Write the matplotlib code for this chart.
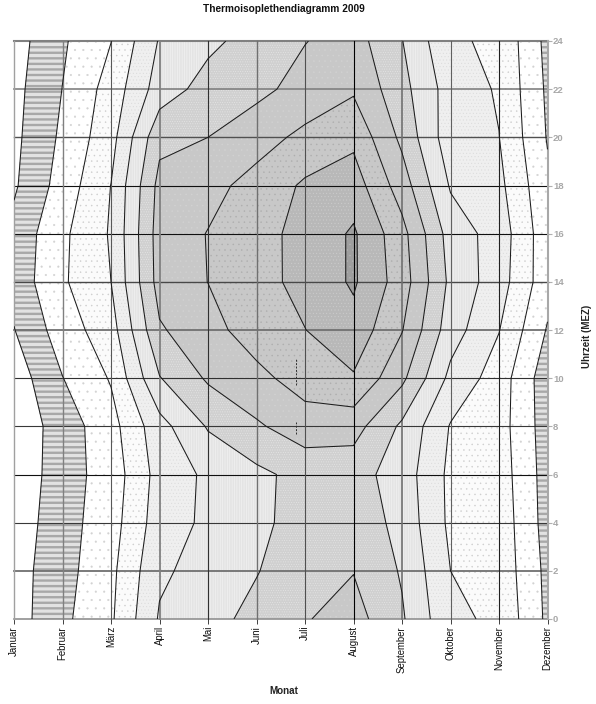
import numpy as np
import matplotlib
matplotlib.use("Agg")
import matplotlib.pyplot as plt

plt.rcParams['font.family'] = ['Liberation Sans', 'DejaVu Sans']

months = ["Januar", "Februar", "März", "April", "Mai", "Juni", "Juli", "August",
          "September", "Oktober", "November", "Dezember"]
hours = [0, 2, 4, 6, 8, 10, 12, 14, 16, 18, 20, 22, 24]
t00 = [-4.37, -0.68, 2.57, 9.30, 11.00, 12.87, 14.80, 16.20, 12.36, 6.60, 5.46, -0.60]
t02 = [-4.26, -1.10, 2.27, 8.50, 10.15, 11.85, 13.90, 14.90, 11.70, 6.00, 5.04, -0.78]
t04 = [-4.73, -1.23, 1.72, 7.54, 9.58, 11.36, 13.10, 14.00, 11.00, 5.37, 4.88, -1.19]
t06 = [-5.30, -1.31, 1.32, 7.14, 9.57, 11.30, 13.00, 13.20, 10.60, 5.30, 4.58, -1.30]
t08 = [-5.10, -1.60, 1.90, 7.90, 12.27, 14.60, 16.60, 16.20, 11.45, 5.80, 4.32, -1.50]
t10 = [-4.68, -0.07, 3.25, 11.85, 15.40, 17.20, 19.30, 20.70, 15.67, 8.20, 4.58, -1.75]
t12 = [-3.10, 1.50, 4.70, 14.65, 17.00, 19.40, 20.95, 22.95, 18.15, 10.40, 6.10, -0.24]
t14 = [-1.86, 2.59, 6.00, 16.20, 18.03, 19.97, 21.90, 24.40, 19.50, 11.30, 7.35, 1.16]
t16 = [-2.10, 2.40, 6.30, 16.35, 18.10, 20.00, 21.90, 24.40, 19.00, 10.70, 7.65, 1.10]
t18 = [-3.40, 1.27, 6.05, 15.90, 17.10, 19.00, 21.45, 22.50, 16.50, 8.70, 6.76, 0.60]
t20 = [-3.70, 0.57, 4.90, 14.20, 15.00, 16.85, 18.70, 20.30, 14.30, 7.20, 6.05, -0.20]
t22 = [-3.90, 0.05, 4.20, 10.40, 13.20, 14.20, 16.10, 17.60, 13.00, 7.60, 5.70, -0.50]
t24 = [-4.28, -0.40, 2.95, 9.25, 11.30, 13.20, 14.90, 16.30, 12.10, 6.40, 5.50, -0.85]
temps = np.array([t00, t02, t04, t06, t08, t10, t12, t14, t16, t18, t20, t22, t24])

levels = [-3, 0, 3, 6, 9, 12, 15, 18, 21, 24]
bounds = [-100] + levels + [100]
band_bg = ['#ffffff', '#e2e2e2', '#ffffff', '#fbfbfb', '#efefef', '#e4e4e4',
           '#d0d0d0', '#c8c8c8', '#c8c8c8', '#b8b8b8', '#9e9e9e']
band_hatch = ['', '---', '..', '...', '.....', '|||||||', '.......', '...', '...', '.....', '...']
band_hcol = ['#ffffff', '#a8a8a8', '#d2d2d2', '#cdcdcd', '#dadada', '#f2f2f2',
             '#e8e8e8', '#d2d2d2', '#adadad', '#cecece', '#b4b4b4']
band_hlw = [0.5, 1.7, 0.3, 0.3, 0.3, 0.5, 0.3, 0.3, 0.3, 0.3, 0.3]

grid_h = ['#909090', '#707070', '#383838', '#101010', '#383838', '#303030', '#707070',
          '#484848', '#101010', '#101010', '#505050', '#808080', '#808080']
grid_v = ['#a0a0a0', '#808080', '#585858', '#808080', '#303030', '#707070', '#505050',
          '#000000', '#707070', '#606060', '#202020', '#a8a8a8']
grid_hw = [1.2, 1.3, 0.8, 0.8, 0.8, 0.8, 1.3, 1.0, 0.8, 0.8, 1.0, 1.2, 1.5]
grid_vw = [1.0, 1.0, 0.8, 1.3, 0.8, 1.0, 0.8, 0.8, 1.2, 0.8, 0.8, 1.5]

dash_month = [5.82, 5.82]
dash_low = [7.7, 9.7]
dash_high = [8.2, 10.8]

fig = plt.figure(figsize=(5.96, 7.04), dpi=100)
W, H = 596, 704
ax = fig.add_axes([14 / W, 1 - 619 / H, (547.5 - 14) / W, (619 - 41) / H])

x = np.arange(len(months))
for i in range(len(band_bg)):
    ax.contourf(x, hours, temps, levels=[bounds[i], bounds[i + 1]], colors=[band_bg[i]], zorder=1)
    if band_hatch[i]:
        plt.rcParams['hatch.color'] = band_hcol[i]
        plt.rcParams['hatch.linewidth'] = band_hlw[i]
        ax.contourf(x, hours, temps, levels=[bounds[i], bounds[i + 1]], colors='none',
                    hatches=[band_hatch[i]], zorder=1.5)

ax.contour(x, hours, temps, levels=levels, colors='#1c1c1c', linewidths=0.75, linestyles='solid', zorder=3)

for h, c, w in zip(hours, grid_h, grid_hw):
    ax.axhline(h, color=c, lw=w, zorder=2.5, clip_on=False)
for m, c, w in zip(x, grid_v, grid_vw):
    ax.axvline(m, color=c, lw=w, zorder=2.5, clip_on=False)
ax.vlines(dash_month, dash_low, dash_high, colors='#303030', linestyles=(0, (2, 1.5)), lw=0.7, zorder=3)

ax.set_xlim(0, 11)
ax.set_ylim(0, 24)
for s in ax.spines.values():
    s.set_visible(False)

ax.set_xticks(x)
ax.set_xticklabels(months, rotation=90, fontsize=6.9, color='#111111')
ax.tick_params(axis='x', length=3.5, width=0.7, color='#404040', pad=1.5)
ax.yaxis.tick_right()
ax.set_yticks(hours)
ax.set_yticklabels([str(h) for h in hours], fontsize=6.8, fontweight='bold', color='#a8a8a8')
ax.tick_params(axis='y', length=3, width=0.8, color='#b0b0b0', pad=1)

fig.text(283.5 / W, 1 - 9.5 / H, "Thermoisoplethendiagramm 2009", ha='center', va='center',
         fontsize=7.3, fontweight='bold', color='#111111')
fig.text(283.5 / W, 1 - 691 / H, "Monat", ha='center', va='center', fontsize=7.1,
         fontweight='bold', color='#222222')
fig.text(587 / W, 1 - 336 / H, "Uhrzeit (MEZ)", rotation=90, ha='center', va='center',
         fontsize=7.0, fontweight='bold', color='#222222')

fig.savefig("out.png", dpi=100)
